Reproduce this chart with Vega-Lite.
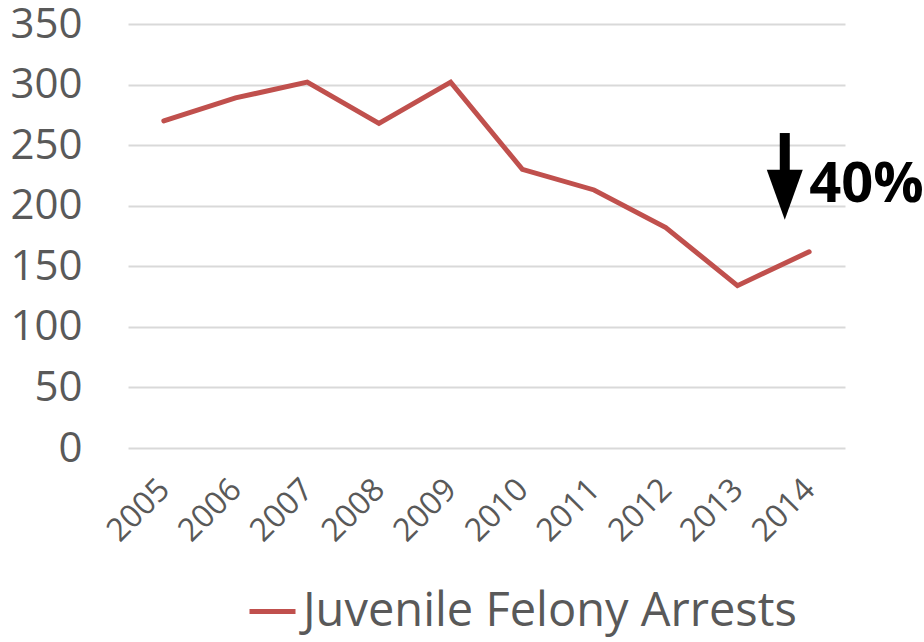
{
  "$schema": "https://vega.github.io/schema/vega-lite/v6.json",
  "autosize": {"type": "none"},
  "width": 717,
  "height": 424,
  "padding": {"left": 128, "top": 24, "right": 79, "bottom": 194},
  "background": "white",
  "config": {"view": {"stroke": null}, "font": "Open Sans"},
  "datasets": {
    "main": [
      {"year": 2005, "arrests": 270, "series": "Juvenile Felony Arrests"},
      {"year": 2006, "arrests": 289, "series": "Juvenile Felony Arrests"},
      {"year": 2007, "arrests": 302, "series": "Juvenile Felony Arrests"},
      {"year": 2008, "arrests": 268, "series": "Juvenile Felony Arrests"},
      {"year": 2009, "arrests": 302, "series": "Juvenile Felony Arrests"},
      {"year": 2010, "arrests": 230, "series": "Juvenile Felony Arrests"},
      {"year": 2011, "arrests": 213, "series": "Juvenile Felony Arrests"},
      {"year": 2012, "arrests": 182, "series": "Juvenile Felony Arrests"},
      {"year": 2013, "arrests": 134, "series": "Juvenile Felony Arrests"},
      {"year": 2014, "arrests": 162, "series": "Juvenile Felony Arrests"}
    ],
    "arrow": [{"x": 2013.66, "top": 260, "bottom": 222, "head": 209}],
    "note": [{"x": 2014, "y": 217, "label": "40%"}]
  },
  "layer": [
    {
      "data": {"name": "main"},
      "mark": {"type": "line", "strokeWidth": 5, "strokeCap": "round", "strokeJoin": "miter"},
      "encoding": {
        "x": {
          "field": "year", "type": "quantitative",
          "scale": {"domain": [2004.5, 2014.5], "nice": false, "zero": false},
          "axis": {
            "values": [2005, 2006, 2007, 2008, 2009, 2010, 2011, 2012, 2013, 2014],
            "format": "d", "title": null, "grid": false, "domain": false, "ticks": false,
            "labelAngle": -45, "labelAlign": "right", "labelBaseline": "middle",
            "labelFontSize": 32, "labelColor": "#595959",
            "labelPadding": 36, "labelFont": "Open Sans", "labelOverlap": false
          }
        },
        "y": {
          "field": "arrests", "type": "quantitative",
          "scale": {"domain": [0, 350], "nice": false},
          "axis": {
            "values": [0, 50, 100, 150, 200, 250, 300, 350],
            "title": null, "domain": false, "ticks": false,
            "gridColor": "#D9D9D9", "gridWidth": 2,
            "labelFontSize": 42, "labelColor": "#595959", "labelPadding": 46,
            "labelFont": "Open Sans"
          }
        },
        "color": {
          "field": "series", "type": "nominal",
          "scale": {"domain": ["Juvenile Felony Arrests"], "range": ["#C0504D"]},
          "legend": {
            "title": null, "orient": "none", "legendX": 119, "legendY": 562,
            "symbolType": "stroke", "symbolSize": 2116, "symbolStrokeWidth": 5,
            "labelFontSize": 47, "labelColor": "#595959", "labelFont": "Open Sans",
            "labelOffset": 5, "labelLimit": 0
          }
        }
      }
    },
    {
      "data": {"name": "arrow"},
      "mark": {"type": "rule", "color": "black", "strokeWidth": 10},
      "encoding": {
        "x": {"field": "x", "type": "quantitative"},
        "y": {"field": "top", "type": "quantitative"},
        "y2": {"field": "bottom"}
      }
    },
    {
      "data": {"name": "arrow"},
      "mark": {"type": "point", "shape": "M-0.72,-1L0.72,-1L0,1Z", "filled": true, "color": "black", "opacity": 1, "size": 2500},
      "encoding": {
        "x": {"field": "x", "type": "quantitative"},
        "y": {"field": "head", "type": "quantitative"}
      }
    },
    {
      "data": {"name": "note"},
      "mark": {"type": "text", "align": "left", "baseline": "middle", "font": "Open Sans", "fontWeight": "bold", "fontSize": 56, "color": "black"},
      "encoding": {
        "x": {"field": "x", "type": "quantitative"},
        "y": {"field": "y", "type": "quantitative"},
        "text": {"field": "label"}
      }
    }
  ]
}
